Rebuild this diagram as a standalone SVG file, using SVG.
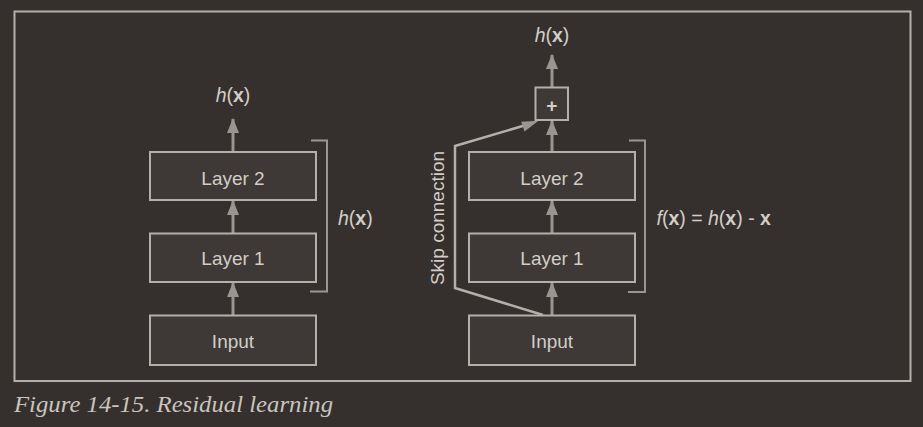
<svg xmlns="http://www.w3.org/2000/svg" width="923" height="427" viewBox="0 0 923 427">
<style>
.box{fill:#3e3936;stroke:#b3afab;stroke-width:2}
.lbl{font-family:"Liberation Sans",Arial,sans-serif;font-size:19px;fill:#d2cdc8;text-anchor:middle}
.math{font-family:"Liberation Sans",Arial,sans-serif;font-size:19.5px;fill:#d2cdc8}
.arr{stroke:#9a9591;stroke-width:3;fill:none}
.skip{stroke:#b3afab;stroke-width:2.5;fill:none}
.brk{stroke:#9a9591;stroke-width:2;fill:none}
</style>
<defs>
<marker id="ah" markerWidth="15" markerHeight="12" refX="14" refY="6" orient="auto" markerUnits="userSpaceOnUse" viewBox="0 0 15 12">
<path d="M15,6 L0,12 L0,0 Z" fill="#9a9591"/>
</marker>
</defs>
<rect x="0" y="0" width="923" height="427" fill="#35302d"/>
<rect x="14.5" y="11.5" width="896" height="369.5" fill="none" stroke="#b3afab" stroke-width="2"/>

<g id="connectors">
<path class="arr" d="M233,315 V283" marker-end="url(#ah)"/>
<path class="arr" d="M233,233 V201" marker-end="url(#ah)"/>
<path class="arr" d="M233,152 V119" marker-end="url(#ah)"/>
<path class="arr" d="M552,315 V283" marker-end="url(#ah)"/>
<path class="arr" d="M552,233 V201" marker-end="url(#ah)"/>
<path class="arr" d="M552,152 V121" marker-end="url(#ah)"/>
<path class="arr" d="M552,87 V55" marker-end="url(#ah)"/>
<path class="skip" d="M543,315 L455,288 V146 L526,125"/>
<path d="M538.5,120.8 L524.5,131.5 L521.2,121.8 Z" fill="#9a9591"/>
</g>

<g id="left-input"><rect class="box" x="150" y="315.5" width="166" height="49.5"/><text class="lbl" x="233" y="347.5">Input</text></g>
<g id="left-layer1"><rect class="box" x="150" y="233.5" width="166" height="48.5"/><text class="lbl" x="233" y="265">Layer 1</text></g>
<g id="left-layer2"><rect class="box" x="150" y="152" width="166" height="48"/><text class="lbl" x="233" y="184.5">Layer 2</text></g>
<g id="left-output"><text class="math" x="233" y="101.5" text-anchor="middle"><tspan font-style="italic">h</tspan>(<tspan font-weight="bold">x</tspan>)</text></g>
<g id="left-bracket"><path class="brk" d="M311,140.5 H327 V291.5 H310"/><text class="math" x="338" y="225"><tspan font-style="italic">h</tspan>(<tspan font-weight="bold">x</tspan>)</text></g>

<g id="right-input"><rect class="box" x="469" y="315.5" width="166" height="49.5"/><text class="lbl" x="552" y="347.5">Input</text></g>
<g id="right-layer1"><rect class="box" x="469" y="233.5" width="166" height="48.5"/><text class="lbl" x="552" y="265">Layer 1</text></g>
<g id="right-layer2"><rect class="box" x="469" y="152" width="166" height="48"/><text class="lbl" x="552" y="184.5">Layer 2</text></g>
<g id="plus"><rect class="box" x="535.5" y="87.5" width="32.5" height="32.5"/><text class="lbl" x="551.8" y="111.5" font-weight="bold" font-size="25">+</text></g>
<g id="right-output"><text class="math" x="552" y="41.5" text-anchor="middle"><tspan font-style="italic">h</tspan>(<tspan font-weight="bold">x</tspan>)</text></g>
<g id="right-bracket"><path class="brk" d="M629,140.5 H645 V292 H628"/><text class="math" x="656.5" y="225"><tspan font-style="italic">f</tspan>(<tspan font-weight="bold">x</tspan>) = <tspan font-style="italic">h</tspan>(<tspan font-weight="bold">x</tspan>) - <tspan font-weight="bold">x</tspan></text></g>
<g id="skip-label"><text class="lbl" font-size="21.5" transform="translate(444,218) rotate(-90)">Skip connection</text></g>

<text x="14" y="411.5" font-family="'Liberation Serif','Times New Roman',serif" font-style="italic" font-size="24" textLength="319" lengthAdjust="spacingAndGlyphs" fill="#c9c4bf">Figure 14-15. Residual learning</text>
</svg>
